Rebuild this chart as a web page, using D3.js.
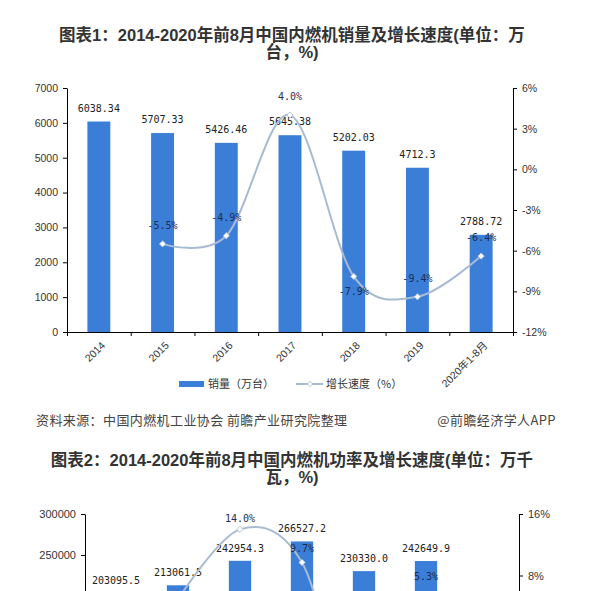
<!DOCTYPE html>
<html>
<head>
<meta charset="utf-8">
<script src="https://cdn.jsdelivr.net/npm/d3@7"></script>
<style>
  body { margin: 0; background: #fff; }
  svg { display: block; font-family: 'Liberation Sans', 'Noto Sans CJK SC', sans-serif; }
  .titulo { font-family: 'Liberation Sans', 'Noto Sans CJK SC', sans-serif; font-weight: bold; font-size: 16.5px; fill: #333; }
  .num { font-family: 'DejaVu Sans Mono', monospace; font-size: 10px; }
  .nota { font-family: 'Noto Sans CJK SC', sans-serif; font-size: 13px; fill: #444; letter-spacing: 0.4px; }
  .leyenda { font-family: 'Noto Sans CJK SC', sans-serif; font-size: 11px; fill: #333; }
</style>
</head>
<body>
<div id="graf"></div>
<script>
// categorias (comunes a los dos graficos)
const anios = ['2014', '2015', '2016', '2017', '2018', '2019', '2020年1-8月']

// grafico 1: ventas (万台) y crecimiento (%)
const ventas = [6038.34, 5707.33, 5426.46, 5645.38, 5202.03, 4712.3, 2788.72]
const crecVentas = [null, -5.5, -4.9, 4.0, -7.9, -9.4, -6.4]
const ticksVentas = [0, 1000, 2000, 3000, 4000, 5000, 6000, 7000]
const ticksCrec1 = [-12, -9, -6, -3, 0, 3, 6]

// grafico 2: potencia (万千瓦) y crecimiento (%) -- 2020 queda fuera de la imagen, valor estimado
const potencia = [203095.5, 213061.5, 242954.3, 266527.2, 230330.0, 242649.9, 160000]
const crecPotencia = [null, 4.9, 14.0, 9.7, -13.6, 5.3, -3.0]
const ticksPotencia = [250000, 300000]   // solo se ven estas
const ticksCrec2 = [8, 16]

const anchoTotal = 590
const altoTotal = 591
const azul = '#3a7ed8'
const gris = '#a9bad3'

const svg = d3.select('#graf')
  .append('svg')
  .attr('width', anchoTotal)
  .attr('height', altoTotal)

function titulo(lineas, y0) {
  const t = svg.append('text')
    .attr('class', 'titulo')
    .attr('text-anchor', 'middle')
  lineas.forEach((l, i) => {
    t.append('tspan')
      .attr('x', 292)
      .attr('y', y0 + i * 17)
      .text(l)
  })
}

function estiloEje(g, size) {
  g.select('.domain').attr('stroke', '#000')
  g.selectAll('.tick line').attr('stroke', '#000')
  g.selectAll('.tick text')
    .attr('fill', '#333')
    .attr('font-size', size)
    .attr('font-family', 'Liberation Sans, sans-serif')
}

function grafico(cfg) {
  const x = d3.scaleBand()
    .domain(anios)
    .range([cfg.izq, cfg.der])
    .paddingInner(0.64)
    .paddingOuter(0.32)
  const xBorde = d3.scaleLinear().domain([0, anios.length]).range([cfg.izq, cfg.der])
  const y = d3.scaleLinear().domain(cfg.dominioY).range([cfg.abajo, cfg.arriba])
  const y2 = d3.scaleLinear().domain(cfg.dominioY2).range([cfg.abajo, cfg.arriba])
  const cx = d => x(d) + x.bandwidth() / 2

  // ejes
  const ejeX = svg.append('g')
    .attr('transform', `translate(0, ${cfg.abajo})`)
    .call(d3.axisBottom(xBorde).ticks(anios.length).tickFormat('').tickSize(4).tickSizeOuter(0))
  estiloEje(ejeX, cfg.fuenteEje)

  const ejeY = svg.append('g')
    .attr('transform', `translate(${cfg.izq}, 0)`)
    .call(d3.axisLeft(y).tickValues(cfg.ticksY).tickSize(4).tickSizeOuter(0).tickPadding(5).tickFormat(d3.format('d')))
  estiloEje(ejeY, cfg.fuenteEje)

  const ejeY2 = svg.append('g')
    .attr('transform', `translate(${cfg.der}, 0)`)
    .call(d3.axisRight(y2).tickValues(cfg.ticksY2).tickSize(4).tickSizeOuter(0).tickPadding(5)
      .tickFormat(d => (d < 0 ? '-' : '') + Math.abs(d) + '%'))
  estiloEje(ejeY2, cfg.fuenteEje)

  // barras
  svg.append('g')
    .selectAll('rect')
    .data(cfg.valores)
    .join('rect')
      .attr('x', (d, i) => x(anios[i]))
      .attr('y', d => y(d))
      .attr('width', x.bandwidth())
      .attr('height', d => cfg.abajo - y(d))
      .attr('fill', azul)

  svg.append('g')
    .selectAll('text')
    .data(cfg.valores)
    .join('text')
      .attr('class', 'num')
      .attr('x', (d, i) => cx(anios[i]))
      .attr('y', d => y(d) - cfg.sepBarra)
      .attr('text-anchor', 'middle')
      .attr('dominant-baseline', 'middle')
      .attr('fill', '#222')
      .text(cfg.formatoValor)

  // linea de crecimiento
  const puntos = cfg.crec
    .map((v, i) => ({ cat: anios[i], v }))
    .filter(d => d.v !== null)

  const linea = d3.line()
    .x(d => cx(d.cat))
    .y(d => y2(d.v))
    .curve(d3.curveCardinal.tension(0))

  svg.append('path')
    .datum(puntos)
    .attr('d', linea)
    .attr('fill', 'none')
    .attr('stroke', gris)
    .attr('stroke-width', 2)

  svg.append('g')
    .selectAll('path')
    .data(puntos)
    .join('path')
      .attr('d', d3.symbol(d3.symbolSquare, 20))
      .attr('transform', d => `translate(${cx(d.cat)}, ${y2(d.v)}) rotate(45)`)
      .attr('fill', '#fff')
      .attr('stroke', gris)
      .attr('stroke-width', 0.8)

  svg.append('g')
    .selectAll('text')
    .data(puntos)
    .join('text')
      .attr('class', 'num')
      .attr('x', d => cx(d.cat))
      .attr('y', d => y2(d.v) + (cfg.sepLinea[d.cat] ?? -18))
      .attr('text-anchor', 'middle')
      .attr('dominant-baseline', 'middle')
      .attr('fill', '#1f2d55')
      .text(d => (d.v < 0 ? '-' : '') + Math.abs(d.v).toFixed(1) + '%')

  return { x, cx }
}

// ---------- grafico 1 ----------
titulo(['图表1：2014-2020年前8月中国内燃机销量及增长速度(单位：万', '台，%)'], 41)

const g1 = grafico({
  izq: 67, der: 513, arriba: 88, abajo: 332,
  dominioY: [0, 7000], dominioY2: [-12, 6],
  ticksY: ticksVentas, ticksY2: ticksCrec1,
  valores: ventas, crec: crecVentas,
  formatoValor: d => String(d),
  sepBarra: 13,
  sepLinea: { '2018': 16 },
  fuenteEje: '10.5px'
})

// etiquetas del eje x rotadas
svg.append('g')
  .selectAll('text')
  .data(anios)
  .join('text')
    .attr('transform', d => `translate(${g1.cx(d) + 7}, 346) rotate(-45)`)
    .attr('text-anchor', 'end')
    .attr('font-size', '10.5px')
    .attr('fill', '#333')
    .attr('font-family', 'Liberation Sans, Noto Sans CJK SC, sans-serif')
    .text(d => d)

// leyenda
const ley = svg.append('g')
ley.append('rect')
  .attr('x', 179).attr('y', 381)
  .attr('width', 25).attr('height', 6)
  .attr('fill', azul)
ley.append('text')
  .attr('class', 'leyenda')
  .attr('x', 208).attr('y', 388)
  .text('销量（万台）')
ley.append('line')
  .attr('x1', 296).attr('x2', 323)
  .attr('y1', 384).attr('y2', 384)
  .attr('stroke', gris).attr('stroke-width', 2)
ley.append('path')
  .attr('d', d3.symbol(d3.symbolSquare, 14))
  .attr('transform', 'translate(310, 384) rotate(45)')
  .attr('fill', '#fff').attr('stroke', gris).attr('stroke-width', 0.8)
ley.append('text')
  .attr('class', 'leyenda')
  .attr('x', 326).attr('y', 388)
  .text('增长速度（%）')

// fuente
svg.append('text')
  .attr('class', 'nota')
  .attr('x', 36).attr('y', 425)
  .text('资料来源：中国内燃机工业协会 前瞻产业研究院整理')
svg.append('text')
  .attr('class', 'nota')
  .attr('x', 556).attr('y', 425)
  .attr('text-anchor', 'end')
  .text('@前瞻经济学人APP')

// ---------- grafico 2 (cortado por abajo) ----------
titulo(['图表2：2014-2020年前8月中国内燃机功率及增长速度(单位：万千', '瓦，%)'], 466)

grafico({
  izq: 85, der: 519, arriba: 514, abajo: 760,
  dominioY: [0, 300000], dominioY2: [-16, 16],
  ticksY: ticksPotencia, ticksY2: ticksCrec2,
  valores: potencia, crec: crecPotencia,
  formatoValor: d3.format('.1f'),
  sepBarra: 12,
  sepLinea: { '2015': 16, '2016': -10, '2017': -13, '2019': -19 },
  fuenteEje: '11px'
})
</script>
</body>
</html>
